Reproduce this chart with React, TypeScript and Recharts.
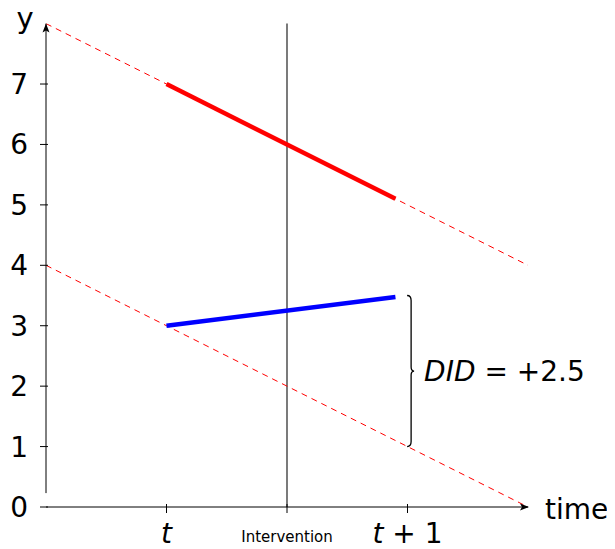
import React from 'react';
import { ComposedChart, Line, XAxis, YAxis, ReferenceLine, ReferenceDot } from 'recharts';

const X_DOMAIN: [number, number] = [0, 4];
const Y_DOMAIN: [number, number] = [0, 8];
const Y_TICKS = [0, 1, 2, 3, 4, 5, 6, 7];
const X_TICKS = [1, 2, 3];
const X_TICK_LABELS = ['t', 'Intervention', 't + 1'];
const X_AXIS_LABEL = 'time';
const Y_AXIS_LABEL = 'y';
const Y_AXIS_START = 0.23;
const INTERVENTION_X = 2;

const upperTrend = [
  { x: 0, y: 8 },
  { x: 4, y: 4 },
];
const lowerTrend = [
  { x: 0, y: 4 },
  { x: 4, y: 0 },
];
const upperObserved = [
  { x: 1, y: 7 },
  { x: 2.9, y: 5.1 },
];
const lowerObserved = [
  { x: 1, y: 3 },
  { x: 2.9, y: 3.475 },
];
const BRACE_X = 3.03;
const BRACE_FROM = 1;
const BRACE_TO = 3.5;
const DID_VALUE = '+2.5';

const FONT = '"DejaVu Sans", sans-serif';

const YTick = (props: any) => {
  const { x, y, payload } = props;
  return (
    <g>
      <line x1={x - 6} x2={x + 2} y1={y} y2={y} stroke="#000" strokeWidth={1} />
      <text x={x - 18} y={y + 10} textAnchor="end" fontSize={28} fill="#000" fontFamily={FONT}>
        {payload.value}
      </text>
    </g>
  );
};

const XTick = (props: any) => {
  const { x, y, payload } = props;
  const label = X_TICK_LABELS[X_TICKS.indexOf(payload.value)];
  let content: React.ReactNode;
  if (label === 'Intervention') {
    content = (
      <text x={x} y={y + 35} textAnchor="middle" fontSize={15} fill="#000" fontFamily={FONT}>
        {label}
      </text>
    );
  } else {
    const parts = label.split(' ');
    content = (
      <text x={x} y={y + 36} textAnchor="middle" fontSize={28} fill="#000" fontFamily={FONT}>
        <tspan fontStyle="italic">{parts[0]}</tspan>
        {parts.length > 1 ? <tspan>{' ' + parts.slice(1).join(' ')}</tspan> : null}
      </text>
    );
  }
  return (
    <g>
      <line x1={x} x2={x} y1={y - 3} y2={y + 6} stroke="#000" strokeWidth={1} />
      {content}
    </g>
  );
};

const XArrow = (props: any) => {
  const { cx, cy } = props;
  return (
    <g>
      <path d={`M${cx + 1},${cy} L${cx - 8},${cy - 3.5} L${cx - 6},${cy} L${cx - 8},${cy + 3.5} Z`} fill="#000" />
      <text x={cx + 17} y={cy + 12} fontSize={28} fill="#000" fontFamily={FONT}>
        {X_AXIS_LABEL}
      </text>
    </g>
  );
};

const YArrow = (props: any) => {
  const { cx, cy } = props;
  return (
    <g>
      <path d={`M${cx},${cy} L${cx - 3.5},${cy + 9} L${cx},${cy + 7} L${cx + 3.5},${cy + 9} Z`} fill="#000" />
      <text x={cx - 21} y={cy + 4} textAnchor="middle" fontSize={29} fill="#000" fontFamily={FONT}>
        {Y_AXIS_LABEL}
      </text>
    </g>
  );
};

const Brace = (props: any) => {
  const { x1, y1, y2 } = props;
  const x = x1;
  const top = Math.min(y1, y2);
  const bot = Math.max(y1, y2);
  const mid = (top + bot) / 2;
  const d = `M${x - 4},${top} Q${x},${top} ${x},${top + 5} L${x},${mid - 4} Q${x},${mid} ${x + 3},${mid} Q${x},${mid} ${x},${mid + 4} L${x},${bot - 5} Q${x},${bot} ${x - 4},${bot}`;
  return (
    <g>
      <path d={d} fill="none" stroke="#000" strokeWidth={1.3} />
      <text x={x + 13} y={mid + 10} fontSize={28} fill="#000" fontFamily={FONT}>
        <tspan fontStyle="italic">DID</tspan>
        <tspan>{' = ' + DID_VALUE}</tspan>
      </text>
    </g>
  );
};

export default function App() {
  return (
    <div style={{ margin: '-8px 0 0 -8px', width: 615, height: 549 }}>
      <ComposedChart
        width={615}
        height={549}
        margin={{ top: 23.6, right: 87, bottom: 41, left: 45 }}
        style={{ fontFamily: FONT }}
      >
        <XAxis
          type="number"
          dataKey="x"
          domain={X_DOMAIN}
          ticks={X_TICKS}
          height={1}
          tickLine={false}
          tickSize={0}
          tickMargin={0}
          axisLine={{ stroke: '#000', strokeWidth: 1 }}
          tick={<XTick />}
          allowDataOverflow
          interval={0}
        />
        <YAxis
          type="number"
          dataKey="y"
          domain={Y_DOMAIN}
          ticks={Y_TICKS}
          width={1}
          tickLine={false}
          tickSize={0}
          tickMargin={0}
          axisLine={false}
          tick={<YTick />}
          allowDataOverflow
          interval={0}
        />
        <ReferenceLine
          segment={[{ x: 0, y: Y_AXIS_START }, { x: 0, y: Y_DOMAIN[1] }]}
          stroke="#000"
          strokeWidth={1}
          ifOverflow="visible"
        />
        <ReferenceLine x={INTERVENTION_X} stroke="#222" strokeWidth={1.2} ifOverflow="visible" />
        <Line data={upperTrend} dataKey="y" stroke="#ff0000" strokeWidth={1} strokeDasharray="6 5" dot={false} isAnimationActive={false} />
        <Line data={lowerTrend} dataKey="y" stroke="#ff0000" strokeWidth={1} strokeDasharray="6 5" dot={false} isAnimationActive={false} />
        <Line data={upperObserved} dataKey="y" stroke="#ff0000" strokeWidth={4.5} dot={false} isAnimationActive={false} />
        <Line data={lowerObserved} dataKey="y" stroke="#0000ff" strokeWidth={4.5} dot={false} isAnimationActive={false} />
        <ReferenceLine
          segment={[{ x: BRACE_X, y: BRACE_TO }, { x: BRACE_X, y: BRACE_FROM }]}
          shape={<Brace />}
          ifOverflow="visible"
        />
        <ReferenceDot x={X_DOMAIN[1]} y={Y_DOMAIN[0]} r={0} shape={<XArrow />} ifOverflow="visible" />
        <ReferenceDot x={X_DOMAIN[0]} y={Y_DOMAIN[1]} r={0} shape={<YArrow />} ifOverflow="visible" />
      </ComposedChart>
    </div>
  );
}
